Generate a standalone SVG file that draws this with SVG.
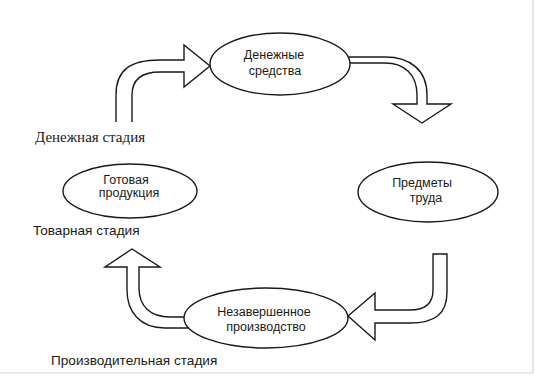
<svg xmlns="http://www.w3.org/2000/svg" width="535" height="376" viewBox="0 0 535 376">
<style>
.shape{fill:#fff;stroke:#1a1a1a;stroke-width:1.4;stroke-linejoin:miter}
.node{font-family:"Liberation Sans",Arial,sans-serif;font-size:12.5px;fill:#1a1a1a;text-anchor:middle}
.stage{font-family:"Liberation Sans",Arial,sans-serif;font-size:13.6px;fill:#1a1a1a}
.stage-serif{font-family:"Liberation Serif","Times New Roman",serif;font-size:15px;fill:#1a1a1a}
.frame{stroke:#d4d4d4;stroke-width:1.2}
</style>
<rect width="535" height="376" fill="#fff"/>
<g id="connectors">
<path class="shape" d="M116,122 L116,95 C116,70 130,60 160,60 L184,60 L184,45 L210,66 L184,87 L184,72 L160,72 C141,72 132,80 132,95 L132,122"/>
<path class="shape" d="M349,57 L385,57 C410,57 427,70 427,95 L427,104 L451,104 L422,123 L393,104 L417,104 L417,95 C417,75 405,63 385,63 L349,63"/>
<path class="shape" d="M433,254 L447,254 L447,292 C447,314 435,323 410,323 L375,323 L375,340 L348,316 L375,293 L375,310 L410,310 C427,310 433,302 433,290 Z"/>
<path class="shape" d="M188,328 L165,328 C140,328 127,312 127,290 L127,267 L105,267 L132,249 L160,267 L139,267 L139,288 C139,306 150,317 170,317 L188,317"/>
</g>
<g id="node-money">
<ellipse class="shape" cx="280" cy="64" rx="70" ry="31"/>
<text class="node" x="274" y="59">Денежные</text>
<text class="node" x="275" y="75">средства</text>
</g>
<g id="node-goods">
<ellipse class="shape" cx="130" cy="191" rx="67" ry="27"/>
<text class="node" x="126" y="184">Готовая</text>
<text class="node" x="129" y="197">продукция</text>
</g>
<g id="node-materials">
<ellipse class="shape" cx="428" cy="192" rx="70" ry="30"/>
<text class="node" x="422" y="187">Предметы</text>
<text class="node" x="426" y="202">труда</text>
</g>
<g id="node-wip">
<ellipse class="shape" cx="266" cy="318" rx="82" ry="30"/>
<text class="node" x="264" y="316">Незавершенное</text>
<text class="node" x="266" y="331">производство</text>
</g>
<g id="labels">
<text class="stage-serif" x="35" y="142">Денежная стадия</text>
<text class="stage" x="33" y="235">Товарная стадия</text>
<text class="stage" x="51" y="365">Производительная стадия</text>
</g>
<line class="frame" x1="533" y1="0" x2="533" y2="373"/>
<line class="frame" x1="0" y1="373" x2="533" y2="373"/>
</svg>
